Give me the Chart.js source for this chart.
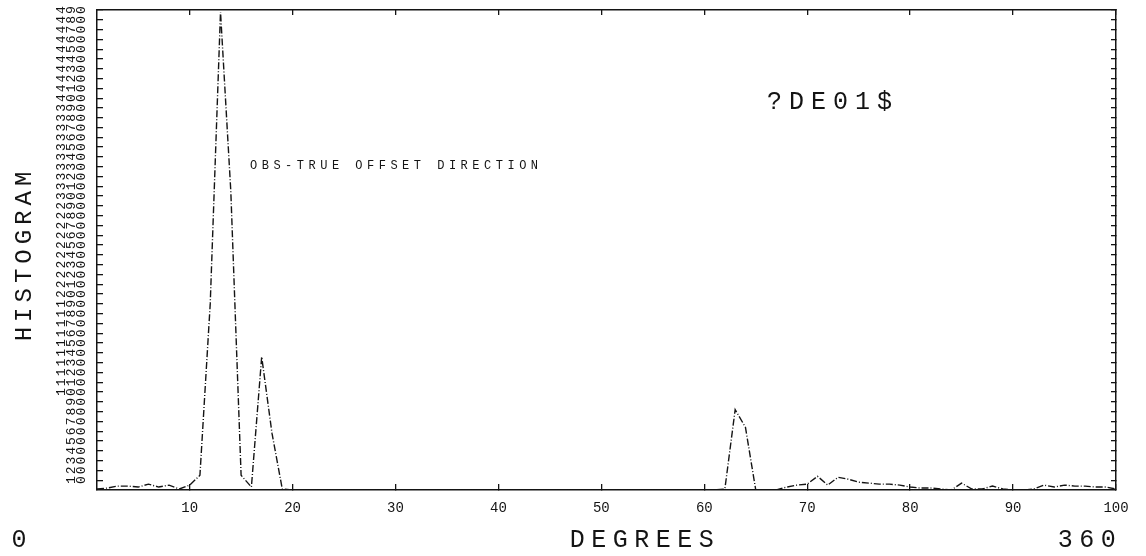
<!DOCTYPE html>
<html>
<head>
<meta charset="utf-8">
<script src="https://cdn.jsdelivr.net/npm/chart.js@4.4.0/dist/chart.umd.min.js"></script>
<style>
  html, body { margin: 0; padding: 0; background: #fff; }
  #wrap { width: 1146px; height: 556px; }
</style>
</head>
<body>
<div id="wrap"><canvas id="histo"></canvas></div>
<script>
// degree bins (100 bins over 0..360)
const bins = Array.from({ length: 100 }, (_, i) => i + 1);

// histogram counts per bin
const counts = [
  1, 2, 4, 4, 3, 6, 3, 5, 1, 5,
  15, 190, 488, 305, 15, 3, 136, 58, 1, 0,
  0, 0, 0, 0, 0, 0, 0, 0, 0, 0,
  0, 0, 0, 0, 0, 0, 0, 0, 0, 0,
  0, 0, 0, 0, 0, 0, 0, 0, 0, 0,
  0, 0, 0, 0, 0, 0, 0, 0, 0, 0,
  0, 1, 82, 64, 0, 0, 0, 3, 5, 6,
  14, 5, 13, 11, 8, 7, 6, 6, 5, 3,
  2, 2, 1, 0, 7, 1, 1, 4, 1, 0,
  0, 1, 5, 3, 5, 4, 4, 3, 3, 1
];

const xTicks = [10, 20, 30, 40, 50, 60, 70, 80, 90, 100];
const yTicks = [10, 20, 30, 40, 50, 60, 70, 80, 90, 100,
  110, 120, 130, 140, 150, 160, 170, 180, 190, 200,
  210, 220, 230, 240, 250, 260, 270, 280, 290, 300,
  310, 320, 330, 340, 350, 360, 370, 380, 390, 400,
  410, 420, 430, 440, 450, 460, 470, 480, 490];

const yTitle = 'HISTOGRAM';
const xTitle = 'DEGREES';
const xStart = '0';
const xEnd = '360';
const caption = 'OBS-TRUE OFFSET DIRECTION';
const tag = '?DE01$';

const ink = '#141414';
const mono = '"Liberation Mono", "DejaVu Sans Mono", monospace';

// plotter-style lettering with wide spacing
const plotterText = {
  id: 'plotterText',
  afterDraw(chart) {
    const ctx = chart.ctx;
    const put = (text, x, y, size, spacing, align, angle) => {
      ctx.save();
      ctx.translate(x, y);
      if (angle) ctx.rotate(angle);
      ctx.font = size + 'px ' + mono;
      ctx.letterSpacing = spacing + 'px';
      ctx.textAlign = align;
      ctx.textBaseline = 'middle';
      ctx.fillStyle = ink;
      ctx.fillText(text, 0, 0);
      ctx.restore();
    };
    put(yTitle, 25, 254, 24, 5, 'center', -Math.PI / 2);
    put(xTitle, 645, 540, 25, 6.5, 'center');
    put(xStart, 19, 540, 25, 0, 'center');
    put(xEnd, 1090, 540, 25, 6.5, 'center');
    put(caption, 250, 166, 12, 4.5, 'left');
    put(tag, 767, 102, 25, 7, 'left');
  }
};

const frameGrid = (len) => ({
  drawOnChartArea: false,
  tickLength: len,
  color: ink,
  lineWidth: 1.3
});
const frameBorder = { color: ink, width: 1.5, dash: [12, 2] };

const noPad = s => {
  s.paddingTop = 0;
  s.paddingBottom = 0;
  s.paddingLeft = 0;
  s.paddingRight = 0;
};

new Chart(document.getElementById('histo'), {
  type: 'line',
  data: {
    labels: bins,
    datasets: [{
      data: counts,
      borderColor: ink,
      borderWidth: 1.4,
      borderDash: [7, 2, 1, 2],
      pointRadius: 0,
      tension: 0,
      fill: false
    }]
  },
  options: {
    responsive: true,
    maintainAspectRatio: false,
    animation: false,
    layout: { padding: 0 },
    plugins: {
      legend: { display: false },
      tooltip: { enabled: false }
    },
    scales: {
      x: {
        type: 'linear',
        position: 'bottom',
        min: 1,
        max: 100,
        afterBuildTicks: s => { s.ticks = xTicks.map(v => ({ value: v })); },
        afterFit: s => { s.height = 66; noPad(s); },
        grid: frameGrid(-6),
        border: frameBorder,
        ticks: {
          maxRotation: 0,
          autoSkip: false,
          padding: 16,
          color: ink,
          font: { family: mono, size: 14 }
        }
      },
      x2: {
        type: 'linear',
        position: 'top',
        min: 1,
        max: 100,
        afterBuildTicks: s => { s.ticks = xTicks.map(v => ({ value: v })); },
        afterFit: s => { s.height = 10; noPad(s); },
        grid: frameGrid(-5),
        border: frameBorder,
        ticks: { display: false }
      },
      y: {
        position: 'left',
        min: 0,
        max: 490,
        afterBuildTicks: s => { s.ticks = yTicks.map(v => ({ value: v })); },
        afterFit: s => { s.width = 97; noPad(s); },
        grid: frameGrid(-6),
        border: { color: ink, width: 1.5 },
        ticks: {
          minRotation: 90,
          maxRotation: 90,
          autoSkip: false,
          crossAlign: 'center',
          padding: 28,
          color: ink,
          font: { family: mono, size: 13, lineHeight: '10px' },
          callback: v => String(v).padStart(3, ' ').split('')
        }
      },
      y2: {
        position: 'right',
        min: 0,
        max: 490,
        afterBuildTicks: s => { s.ticks = yTicks.map(v => ({ value: v })); },
        afterFit: s => { s.width = 30; noPad(s); },
        grid: frameGrid(-5),
        border: frameBorder,
        ticks: { display: false }
      }
    }
  },
  plugins: [plotterText]
});
</script>
</body>
</html>
